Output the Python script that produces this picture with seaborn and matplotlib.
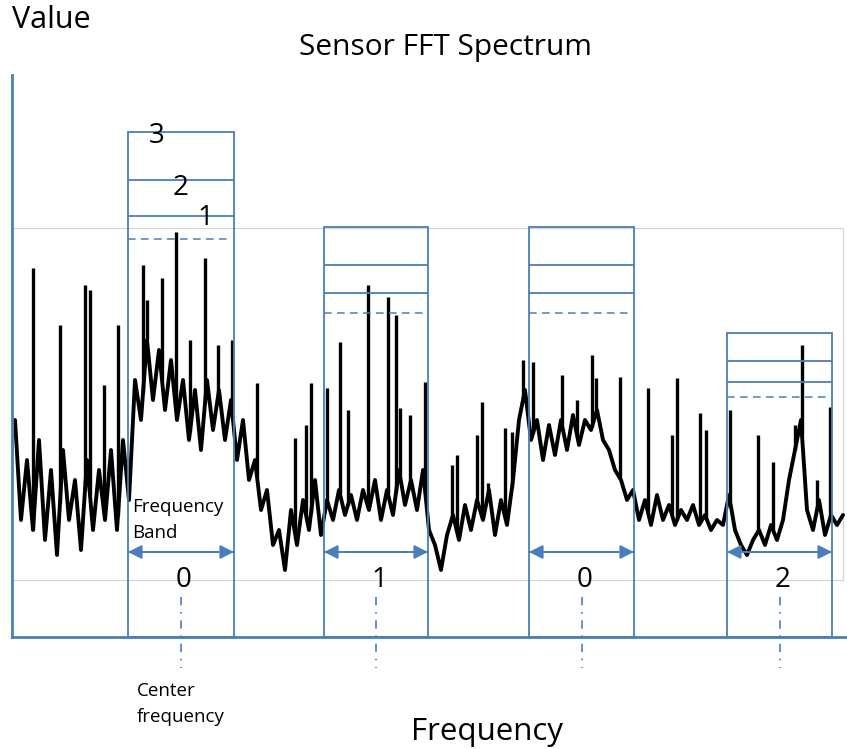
import numpy as np
import matplotlib
matplotlib.use("Agg")
import matplotlib.pyplot as plt
from matplotlib.patches import Rectangle
import seaborn as sns

# spectrum trace, sampled every 6 frequency units starting at 15
freq_start, freq_step = 15, 6
spectrum = [
    217, 117, 177, 107, 197, 97, 167, 82, 187, 117, 157, 87, 177, 107, 167, 117, 187, 107, 197, 137,
    257, 217, 297, 237, 287, 227, 277, 217, 257, 197, 247, 187, 257, 207, 247, 197, 237, 177, 217, 157,
    177, 127, 147, 92, 107, 67, 127, 92, 137, 107, 157, 102, 137, 117, 147, 122, 142, 117, 147, 127,
    157, 117, 147, 122, 167, 132, 157, 127, 167, 107, 92, 67, 102, 122, 97, 132, 107, 137, 117, 147,
    102, 137, 112, 157, 217, 247, 197, 217, 177, 212, 182, 217, 187, 222, 192, 217, 207, 227, 197, 187,
    167, 157, 137, 147, 117, 137, 112, 142, 117, 132, 112, 127, 117, 132, 112, 122, 107, 117, 112, 142,
    107, 92, 82, 97, 107, 92, 112, 97, 117, 157, 187, 217, 127, 107, 137, 102, 122, 112, 122,
]

# narrow peaks sticking out of the trace
peak_freq = [33, 60, 85, 90, 104, 118, 143, 147, 162, 176, 190, 205, 218, 232, 257, 295, 306,
             311, 327, 340, 348, 368, 388, 396, 400, 410, 425, 452, 457, 477, 482, 488, 505,
             512, 523, 533, 562, 577, 592, 596, 620, 648, 672, 677, 700, 706, 730, 758, 773,
             795, 802, 817, 830]
peak_value = [369, 312, 352, 347, 252, 312, 372, 337, 359, 405, 297, 379, 292, 297, 254, 199, 212,
              254, 249, 295, 227, 352, 340, 322, 229, 222, 255, 172, 182, 202, 235, 154, 209,
              205, 277, 275, 262, 237, 282, 259, 260, 249, 202, 259, 224, 207, 227, 202, 175,
              212, 292, 157, 230]

# frequency bands
band_lo = [128, 324, 529, 727]
band_hi = [234, 428, 634, 832]
band_label = ["0", "1", "0", "2"]
band_top = [505, 410, 410, 304]
band_lvl2 = [457, 372, 372, 276]
band_lvl1 = [421, 344, 344, 255]
band_thresh = [398, 324, 324, 240]

blue = "#4a7ebb"

sns.set_theme(style="white")
plt.rcParams["font.family"] = ["Open Sans", "DejaVu Sans"]
plt.rcParams["text.color"] = "black"

W, H = 847, 749
fig = plt.figure(figsize=(W / 100, H / 100), dpi=100)
ax = fig.add_axes([12 / W, 112 / H, 835 / W, 562 / H])
ax.set_xlim(12, 847)
ax.set_ylim(0, 562)

# light grey frame behind the trace
ax.add_patch(Rectangle((12, 57), 831, 352, fill=False, ec="#d4d4d4", lw=0.8, zorder=0))

freq = freq_start + freq_step * np.arange(len(spectrum))
sns.lineplot(x=freq, y=spectrum, ax=ax, color="black", lw=2.8, zorder=2)
base = np.interp(peak_freq, freq, spectrum)
ax.vlines(peak_freq, base, peak_value, color="black", lw=2.4, zorder=2)

for lo, hi, lab, top, l2, l1, th in zip(band_lo, band_hi, band_label, band_top,
                                        band_lvl2, band_lvl1, band_thresh):
    ax.add_patch(Rectangle((lo, 0), hi - lo, top, fill=False, ec=blue, lw=1.3, zorder=3))
    ax.hlines([l2, l1], lo, hi, color=blue, lw=1.3, zorder=3)
    ax.hlines(th, lo, hi - 5, color=blue, lw=1.1, linestyles=(0, (5, 3.5)), zorder=3)
    ax.annotate("", xy=(hi, 85), xytext=(lo, 85),
                arrowprops=dict(arrowstyle="-|>,head_length=0.7,head_width=0.35", color=blue,
                                lw=1.3, shrinkA=0, shrinkB=0), zorder=4)
    ax.annotate("", xy=(lo, 85), xytext=(hi, 85),
                arrowprops=dict(arrowstyle="-|>,head_length=0.7,head_width=0.35", color=blue,
                                lw=1.3, shrinkA=0, shrinkB=0), zorder=4)
    mid = (lo + hi) / 2
    ax.text(mid + 3, 57, lab, ha="center", va="center", fontsize=20)
    ax.plot([mid, mid], [40, -31], color=blue, lw=1.2, ls=(0, (5, 4, 1, 4)), clip_on=False)

# level numbers on the first band
for lab, x, y in [("3", 157, 501), ("2", 181, 449), ("1", 205, 419)]:
    ax.text(x, y, lab, ha="center", va="center", fontsize=20)

ax.text(132, 117, "Frequency\nBand", ha="left", va="center", fontsize=13.5, linespacing=1.5)

ax.set_xticks([])
ax.set_yticks([])
for s in ["top", "right"]:
    ax.spines[s].set_visible(False)
for s in ["left", "bottom"]:
    ax.spines[s].set_color(blue)
    ax.spines[s].set_linewidth(2)

fig.text(12 / W, 1 - 20 / H, "Value", ha="left", va="center", fontsize=22)
fig.text(445 / W, 1 - 47 / H, "Sensor FFT Spectrum", ha="center", va="center", fontsize=21.5)
fig.text(487 / W, 1 - 732 / H, "Frequency", ha="center", va="center", fontsize=22.5)
fig.text(137 / W, 1 - 704 / H, "Center\nfrequency", ha="left", va="center", fontsize=13.5,
         linespacing=1.5)

fig.savefig("out.png", dpi=100)
